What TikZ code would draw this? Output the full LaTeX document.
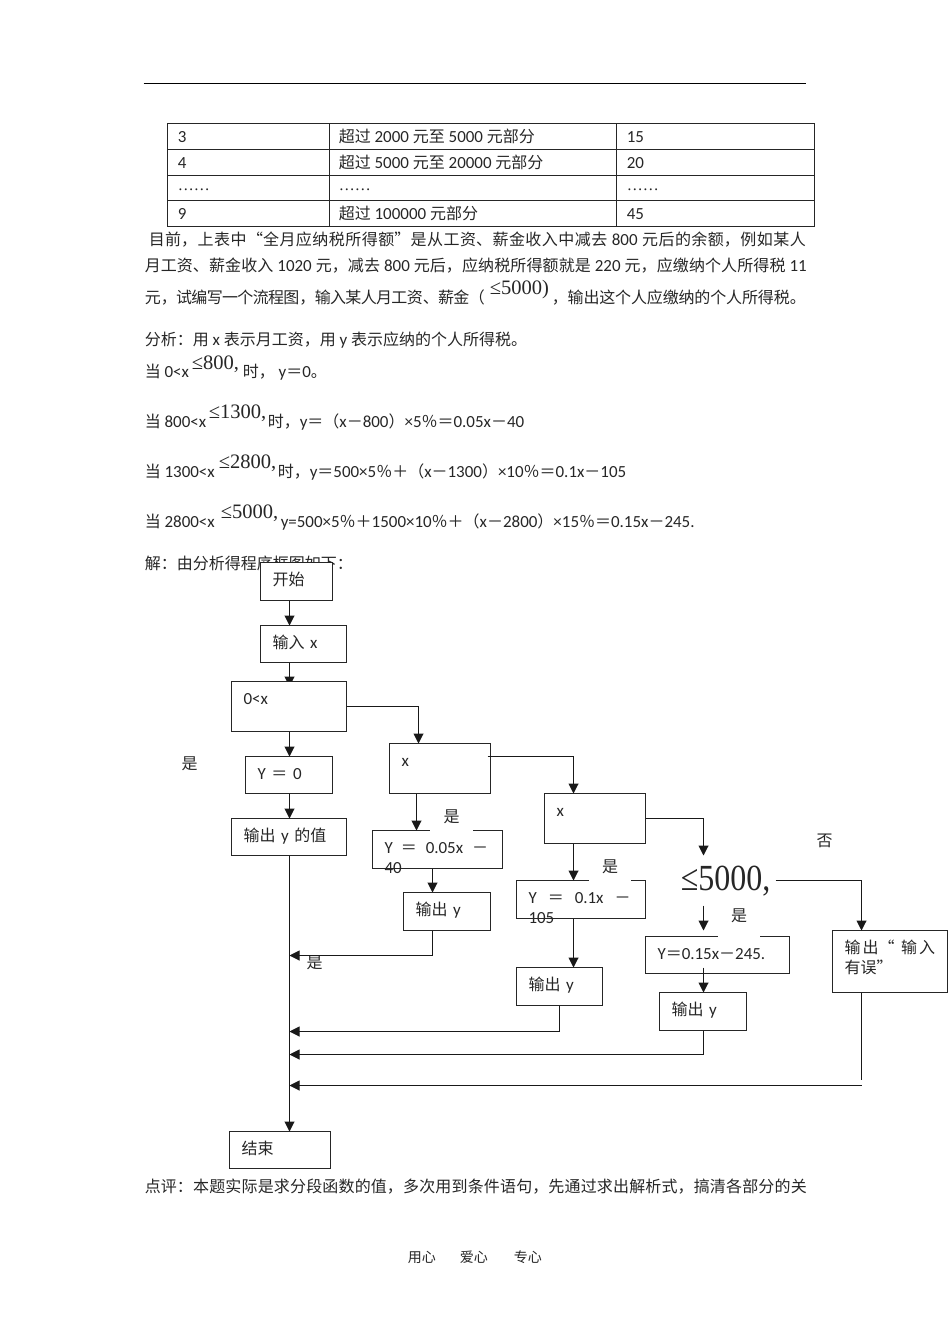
\documentclass[tikz,border=0pt]{standalone}
\usepackage{fontspec}
\usepackage{graphicx}
\setmainfont[Scale=1.06]{Carlito}
\newfontfamily\cjkfont{Noto Sans CJK SC}
\newfontfamily\timesfont{Liberation Serif}
\newcommand{\cn}[1]{{\cjkfont #1}}
\XeTeXlinebreaklocale "zh"
\XeTeXlinebreakskip=0pt plus 1pt minus .5pt
\usetikzlibrary{arrows.meta, backgrounds}

\tikzset{
  every node/.style={font=\fontsize{12pt}{15pt}\selectfont, text=black!85},
  txt/.style={anchor=base west, inner sep=0pt},
  fullline/.style={anchor=base west, inner sep=0pt, text width=#1, align=justify},
  bigmath/.style={txt, font=\timesfont\fontsize{15.4pt}{18pt}\selectfont},
  flowbox/.style 2 args={draw=black!85, line width=0.75pt, fill=white, anchor=north west, align=left, outer sep=0pt,
    inner ysep=0pt, inner xsep=9pt, text height=17.25pt, text depth=#2, text width=#1},
  gaplabel/.style={anchor=north, fill=white, inner sep=0pt, minimum width=32pt, align=center,
    text height=12.5pt, text depth=#1},
  flow/.style={draw=black!90, line width=0.75pt, -{Triangle[length=7.5pt, width=7.5pt]}},
  wire/.style={draw=black!90, line width=0.75pt}
}

\begin{document}
\begin{tikzpicture}[x=0.75pt, y=-0.75pt]
  \useasboundingbox (0.5,0.5) rectangle (950.5,1344.5);

  % Header rule and table
  \draw[line width=1.1pt] (144,84) -- (806,84);
  \draw[black!85, line width=0.6pt] (168,124) rectangle (815,227);
  \foreach \rowy in {150,176,201}
    \draw[black!85, line width=0.6pt] (168,\rowy) -- (815,\rowy);
  \foreach \colx in {330,617}
    \draw[black!85, line width=0.6pt] (\colx,124) -- (\colx,227);
  \foreach \n/\rowy/\cola/\colb/\colc in {
      1/143/3/{\cn{超过} 2000 \cn{元至} 5000 \cn{元部分}}/15,
      2/169/4/{\cn{超过} 5000 \cn{元至} 20000 \cn{元部分}}/20,
      3/191/{\timesfont ……}/{\timesfont ……}/{\timesfont ……},
      4/220/9/{\cn{超过} 100000 \cn{元部分}}/45} {
    \node[txt] (rownum\n) at (178,\rowy) {\cola};
    \node[txt] (rowband\n) at (339,\rowy) {\colb};
    \node[txt] (rowrate\n) at (627,\rowy) {\colc};
  }

  % Text above the chart
  \node[fullline=492.75pt] (para1) at (149,246) {\cn{目前，上表中“全月应纳税所得额”是从工资、薪金收入中减去} 800 \cn{元后的余额，例如某人}\parfillskip=0pt\par};
  \node[fullline=496.5pt] (para2) at (145,272) {\cn{月工资、薪金收入} 1020 \cn{元，减去} 800 \cn{元后，应纳税所得额就是} 220 \cn{元，应缴纳个人所得税} 11\parfillskip=0pt\par};
  \node[fullline=255pt] (para3a) at (145,304) {\cn{元，试编写一个流程图，输入某人月工资、薪金（}\parfillskip=0pt\par};
  \node[bigmath] (para3b) at (490,295) {≤5000)};
  \node[fullline=190.5pt] (para3c) at (552,304) {\cn{，输出这个人应缴纳的个人所得税。}\parfillskip=0pt\par};
  \node[txt] (analysis) at (145,346) {\cn{分析：用} x \cn{表示月工资，用} y \cn{表示应纳的个人所得税。}};

  \node[txt] (case1a) at (145,378) {\cn{当} 0<x};
  \node[bigmath] (case1b) at (192,370) {≤800,};
  \node[txt] (case1c) at (243,378) {\cn{时，} y\cn{＝}0\cn{。}};
  \node[txt] (case2a) at (145,428) {\cn{当} 800<x};
  \node[bigmath] (case2b) at (209,419) {≤1300,};
  \node[txt] (case2c) at (268,428) {\cn{时，}y\cn{＝（}x\cn{－}800\cn{）}×5\cn{％＝}0.05x\cn{－}40};
  \node[txt] (case3a) at (145,478) {\cn{当} 1300<x};
  \node[bigmath] (case3b) at (219,469) {≤2800,};
  \node[txt] (case3c) at (278,478) {\cn{时，}y\cn{＝}500×5\cn{％＋（}x\cn{－}1300\cn{）}×10\cn{％＝}0.1x\cn{－}105};
  \node[txt] (case4a) at (145,528) {\cn{当} 2800<x};
  \node[bigmath] (case4b) at (221,519) {≤5000,};
  \node[txt] (case4c) at (281,528) {y=500×5\cn{％＋}1500×10\cn{％＋（}x\cn{－}2800\cn{）}×15\cn{％＝}0.15x\cn{－}245.};
  \node[txt] (solution) at (145,570) {\cn{解：由分析得程序框图如下：}};

  % Chart boxes
  \node[flowbox={36pt}{11.25pt}] (start) at (261,563) {\cn{开始}};
  \node[flowbox={46.5pt}{10.5pt}] (input) at (261,626) {\cn{输入} x};
  \node[flowbox={68.25pt}{20.25pt}] (guard0) at (232,682) {0<x};
  \node[flowbox={47.25pt}{10.5pt}] (zero) at (246,757) {Y \cn{＝} 0};
  \node[flowbox={68.25pt}{10.5pt}] (output0) at (232,819) {\cn{输出} y \cn{的值}};
  \node[flowbox={57.75pt}{20.25pt}] (guard1) at (390,744) {x};
  \node[flowbox={79.5pt}{11.25pt}] (tax1) at (373,831) {\mbox{Y\hspace{6pt}\cn{＝}\hspace{6.75pt}0.05x\hspace{6.75pt}\cn{－}}\\40};
  \node[flowbox={47.25pt}{11.25pt}] (output1) at (404,893) {\cn{输出} y};
  \node[flowbox={57.75pt}{20.25pt}] (guard2) at (545,794) {x};
  \node[flowbox={78.75pt}{11.25pt}] (tax2) at (517,881) {\mbox{Y\hspace{8.25pt}\cn{＝}\hspace{8.25pt}0.1x\hspace{8.25pt}\cn{－}}\\105};
  \node[flowbox={46.5pt}{11.25pt}] (output2) at (517,968) {\cn{输出} y};
  \node[flowbox={90pt}{10.5pt}] (tax3) at (646,937) {Y\cn{＝}0.15x\cn{－}245.};
  \node[flowbox={47.25pt}{11.25pt}] (output3) at (660,993) {\cn{输出} y};
  \node[flowbox={68.25pt}{29.25pt}] (wrong) at (833,931) {\mbox{\cn{输}\hspace{1.5pt}\cn{出}\cn{“}\hspace{5pt}\cn{输}\hspace{1.5pt}\cn{入}}\\\cn{有误”}};
  \node[flowbox={57.75pt}{10.5pt}] (finish) at (230,1132) {\cn{结束}};
  \node[txt, font=\timesfont\fontsize{24pt}{28pt}\selectfont] (guard3) at (681,891) {\scalebox{1}[1.15]{≤5000,}};

  % Labels, the white ones cut the top edge of a box
  \node[inner sep=0pt] (yes0) at (190,764) {\cn{是}};
  \node[gaplabel=7.1pt] (yes1) at (452,806) {\cn{是}};
  \node[gaplabel=7.1pt] (yes2) at (610.5,856) {\cn{是}};
  \node[gaplabel=12.1pt] (yes3) at (739.5,905) {\cn{是}};
  \node[inner sep=0pt] (yes4) at (315,963) {\cn{是}};
  \node[inner sep=0pt] (no3) at (825,841) {\cn{否}};

  % Helper points
  \coordinate (trunk) at (290,0);
  \coordinate (drop0) at (419,0);
  \coordinate (drop1) at (417,0);
  \coordinate (drop1b) at (433,0);
  \coordinate (drop2) at (574,0);
  \coordinate (drop2b) at (560,0);
  \coordinate (drop3) at (704,0);
  \coordinate (drop4) at (862,0);
  \coordinate (guard0out) at (347,707);
  \coordinate (guard1out) at (488,757);
  \coordinate (guard3in) at (704,856);
  \coordinate (guard3yes) at (704,906);
  \coordinate (tax3in) at (704,931);
  \coordinate (tax3out) at (704,968);
  \coordinate (guard3no) at (776,881);
  \coordinate (wrongend) at (862,1080);
  \coordinate (wrongjoin) at (862,1086);
  \coordinate (join1) at (290,956);
  \coordinate (join2) at (290,1032);
  \coordinate (join3) at (290,1055);
  \coordinate (join4) at (290,1086);

  % Main line
  \draw[flow] (start.south -| trunk) -- (input.north -| trunk);
  \begin{scope}[on background layer]
    \draw[flow] (input.south -| trunk) -- (290,687);
  \end{scope}
  \draw[flow] (guard0.south -| trunk) -- (zero.north -| trunk);
  \draw[flow] (zero.south -| trunk) -- (output0.north -| trunk);
  \draw[flow] (output0.south -| trunk) -- (finish.north -| trunk);

  % Branches
  \draw[flow] (guard0out) -| (guard1.north -| drop0);
  \draw[flow] (guard1.south -| drop1) -- (tax1.north -| drop1);
  \draw[flow] (tax1.south -| drop1b) -- (output1.north -| drop1b);
  \draw[flow] (output1.south -| drop1b) |- (join1);

  \draw[flow] (guard1out) -| (guard2.north -| drop2);
  \draw[flow] (guard2.south -| drop2) -- (tax2.north -| drop2);
  \draw[flow] (tax2.south -| drop2) -- (output2.north -| drop2);
  \draw[flow] (output2.south -| drop2b) |- (join2);

  \draw[flow] (guard2.east) -| (guard3in);
  \draw[flow] (guard3yes) -- (tax3in);
  \draw[flow] (tax3out) -- (output3.north -| drop3);
  \draw[flow] (output3.south -| drop3) |- (join3);

  \draw[flow] (guard3no) -| (wrong.north -| drop4);
  \draw[wire] (wrong.south -| drop4) -- (wrongend);
  \draw[flow] (wrongjoin) -- (join4);

  % Text below the chart
  \node[fullline=496.5pt] (review) at (145,1193) {\cn{点评：本题实际是求分段函数的值，多次用到条件语句，先通过求出解析式，搞清各部分的关}\parfillskip=0pt\par};
  \node[txt, font=\fontsize{10.5pt}{13pt}\selectfont] (foot1) at (408,1263) {\cn{用心}};
  \node[txt, font=\fontsize{10.5pt}{13pt}\selectfont] (foot2) at (460,1263) {\cn{爱心}};
  \node[txt, font=\fontsize{10.5pt}{13pt}\selectfont] (foot3) at (514,1263) {\cn{专心}};
\end{tikzpicture}
\end{document}
